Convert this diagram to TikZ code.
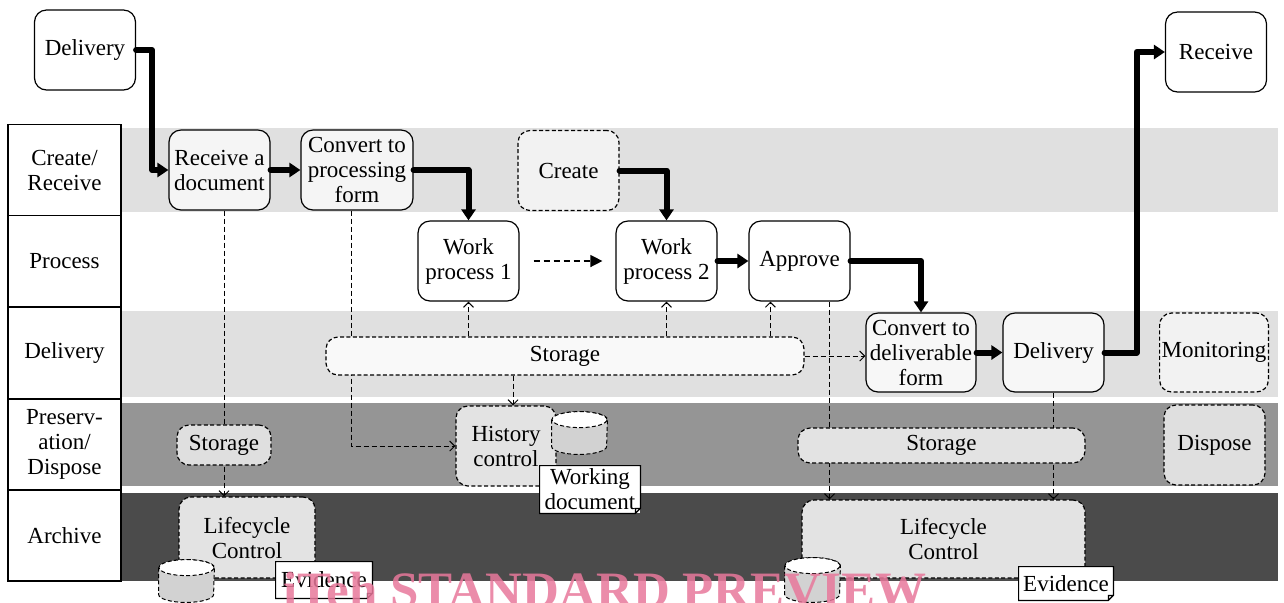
\documentclass[tikz,border=0pt]{standalone}
\usepackage{fontspec}
\setmainfont{Liberation Serif}
\usetikzlibrary{arrows.meta,calc}
\pgfdeclarelayer{bands}
\pgfdeclarelayer{links}
\pgfsetlayers{bands,links,main}
\definecolor{bandlight}{HTML}{E0E0E0}
\definecolor{bandmid}{HTML}{959595}
\definecolor{banddark}{HTML}{4B4B4B}
\definecolor{stamp}{RGB}{232,120,155}
\tikzset{
  box/.style={draw, rounded corners=6pt, line width=0.6pt, align=center, inner sep=1pt,
    minimum width=50.5pt, minimum height=40pt, fill=white},
  dbox/.style={box, dash pattern=on 2pt off 1.2pt},
  lane/.style={draw, line width=0.9pt, minimum width=56.5pt, minimum height=45.5pt, align=center, inner sep=1pt},
  flow/.style={line width=3pt, line join=round, line cap=round, -{Triangle[length=5.5pt,width=7pt]}},
  jump/.style={line width=0.7pt, dash pattern=on 3pt off 2pt, -{Triangle[length=6pt,width=6pt]},
    shorten <=7pt, shorten >=6.5pt},
  link/.style={line width=0.5pt, dash pattern=on 2.5pt off 1.5pt, -{Straight Barb[length=2.5pt,width=5pt]}},
  store/.style={minimum width=27.5pt, minimum height=21pt, inner sep=0pt},
  drum/.style={line width=0.5pt, dash pattern=on 2pt off 1.2pt},
  docbox/.style={fill=white, align=center, inner sep=1pt}
}
\begin{document}
\begin{tikzpicture}[x=0.5pt, y=-0.5pt, font=\fontsize{11.5}{12.5}\selectfont]
\useasboundingbox (0,0) rectangle (1284,602);
\clip (0,0) rectangle (1284,602);

% swim lanes
\begin{pgfonlayer}{bands}
\fill[bandlight] (121,128) rectangle (1278,212);
\fill[bandlight] (121,311) rectangle (1278,397);
\fill[bandmid] (121,403) rectangle (1278,486);
\fill[banddark] (121,493) rectangle (1278,581);
\end{pgfonlayer}

\node[lane] (lcreate) at (64.5,170) {Create/\\Receive};
\node[lane] (lprocess) at (64.5,261) {Process};
\node[lane] (ldelivery) at (64.5,353) {Delivery};
\node[lane] (lpreserve) at (64.5,444.5) {Preserv-\\ation/\\Dispose};
\node[lane] (larchive) at (64.5,535.5) {Archive};

% main flow boxes
\node[box] (dlvtop) at (85,50) {Delivery};
\node[box] (rcvtop) at (1216,52) {Receive};
\node[box, fill=gray!8] (rcvdoc) at (219.5,170) {Receive a\\document};
\node[box, fill=gray!8, minimum width=56pt] (convproc) at (357,170) {Convert to\\processing\\form};
\node[dbox, fill=gray!10] (create) at (568.5,170.5) {Create};
\node[box] (wp1) at (468.5,261) {Work\\process 1};
\node[box] (wp2) at (666.5,261) {Work\\process 2};
\node[box] (approve) at (799.5,261) {Approve};
\node[dbox, fill=gray!5, minimum width=239pt, minimum height=19pt] (storage) at (565,356) {Storage};
\node[box, fill=gray!6, minimum width=55pt, minimum height=39.5pt] (convdel) at (921,352.5) {Convert to\\deliverable\\form};
\node[box, fill=gray!6, minimum height=39.5pt] (dlvmid) at (1053.5,352.5) {Delivery};
\node[dbox, fill=gray!10, minimum width=50pt, minimum height=39.5pt] (monitor) at (1214,352.5) {Monitoring};

% preservation and archive
\node[dbox, fill=gray!25, minimum width=47pt, minimum height=20pt] (storL) at (224,445) {Storage};
\node[dbox, fill=gray!22, minimum width=50pt] (history) at (506,446) {History\\control};
\node[store] (cylH) at (579.5,433) {};
\node[docbox, minimum width=50pt, minimum height=23.5pt] (workdoc) at (590,489.5) {Working\\document};
\node[dbox, fill=gray!22, minimum width=143.5pt, minimum height=17.5pt] (storR) at (941.5,445.5) {Storage};
\node[dbox, fill=gray!25] (dispose) at (1214.5,445) {Dispose};
\node[dbox, fill=gray!22, minimum width=68pt, minimum height=40.5pt] (lifeL) at (247,537.5) {Lifecycle\\Control};
\node[store] (cylL) at (186.5,581) {};
\node[docbox, minimum width=48pt, minimum height=18pt] (evidL) at (324,580) {Evidence};
\node[dbox, fill=gray!22, minimum width=141.5pt, minimum height=39pt] (lifeR) at (943.5,539) {Lifecycle\\Control};
\node[store, minimum height=22pt] (cylR) at (812.5,580) {};
\node[docbox, minimum width=47pt, minimum height=16.5pt] (evidR) at (1066,583.5) {Evidence};

% drums over the placeholders
\foreach \c in {cylH,cylL,cylR} {
  \draw[drum, fill=gray!35] ([yshift=-4pt]\c.north west) -- ([yshift=4pt]\c.south west)
    arc[start angle=180, end angle=360, x radius=13.75pt, y radius=4pt]
    -- ([yshift=-4pt]\c.north east)
    arc[start angle=0, end angle=180, x radius=13.75pt, y radius=4pt] -- cycle;
  \draw[drum, fill=white] ([yshift=-4pt]\c.north) ellipse [x radius=13.75pt, y radius=4pt];
}

\foreach \d in {workdoc,evidL,evidR}
  \draw[line width=0.6pt] (\d.north west) -- (\d.north east) -- ([yshift=2.5pt]\d.south east)
    -- ([xshift=-2.5pt]\d.south east) -- (\d.south west) -- cycle
    ([yshift=2.5pt]\d.south east) -- ([xshift=-2.5pt,yshift=2.5pt]\d.south east) -- ([xshift=-2.5pt]\d.south east);

% thick flow
\draw[flow] (dlvtop.east) -- ++(16,0) |- (rcvdoc.west);
\draw[flow] (rcvdoc) -- (convproc);
\draw[flow] (convproc.east) -| (wp1.north);
\draw[flow] (create.east) -| (wp2.north);
\draw[jump] (wp1) -- (wp2);
\draw[flow] (wp2) -- (approve);
\draw[flow] (approve.east) -| (convdel.north);
\draw[flow] (convdel) -- (dlvmid);
\draw[flow] (dlvmid.east) -- ++(32,0) |- (rcvtop.west);

% storage links
\draw[link] (storage.north -| wp1.south) -- (wp1.south);
\draw[link] (storage.north -| wp2.south) -- (wp2.south);
\draw[link] ([xshift=11pt]approve.south west |- storage.north) -- ([xshift=11pt]approve.south west);
\draw[link] (storage.east) -- (storage.east -| convdel.west);
\draw[link] ([xshift=3.5pt]history.north |- storage.south) -- ([xshift=3.5pt]history.north);
\begin{pgfonlayer}{links}
\draw[link] (rcvdoc.south -| storL.north) -- (lifeL.north -| storL.north);
\draw[link] ([xshift=-3pt]convproc.south) |- (history.west);
\draw[link] ([xshift=15pt]approve.south) -- ([xshift=15pt]approve.south |- lifeR.north);
\draw[link] (dlvmid.south) -- (dlvmid.south |- lifeR.north);
\end{pgfonlayer}

\node[anchor=base west, text=stamp, opacity=0.85, font=\bfseries\fontsize{25.5}{25.5}\selectfont] (stampmark) at (276,607) {iTeh STANDARD PREVIEW};
\end{tikzpicture}
\end{document}
